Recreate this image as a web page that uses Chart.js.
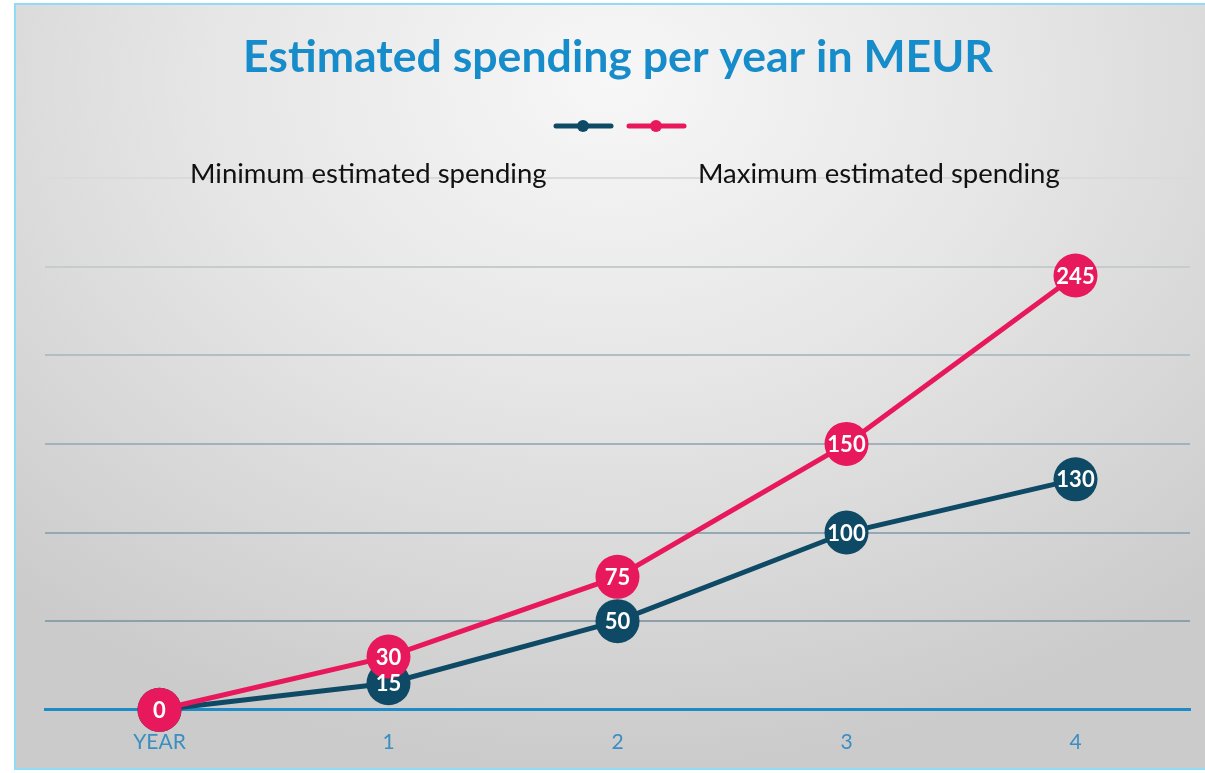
<!DOCTYPE html>
<html>
<head>
<meta charset="utf-8">
<script src="https://cdn.jsdelivr.net/npm/chart.js@4"></script>
<style>
  html, body { margin: 0; padding: 0; background: #fff; overflow: hidden; }
  #frame {
    position: absolute; left: 14px; top: 3px; width: 1195px; height: 767px;
    border: 2px solid #8fdcf6; box-sizing: border-box;
    background: radial-gradient(ellipse 75% 90% at 50% 10%, #f7f7f7 0%, #e6e6e6 45%, #cbcbcb 100%);
  }
  #chart-box { position: absolute; left: 0; top: 0; width: 1205px; height: 773px; }
</style>
</head>
<body>
<div id="frame"></div>
<div id="chart-box"><canvas id="mycanvas"></canvas></div>
<script>
let years = ["YEAR", "1", "2", "3", "4"];
let minSpending = [0, 15, 50, 100, 130];
let maxSpending = [0, 30, 75, 150, 245];
let seriesNames = ["Minimum estimated spending", "Maximum estimated spending"];
let yTicks = [0, 50, 100, 150, 200, 250, 300];

let navy = "#0e4a65";
let pink = "#e8185c";
let gridColors = {
  0: "rgba(0,0,0,0)", 50: "#8ba0ac", 100: "#95a8b3", 150: "#a2b2bc",
  200: "#b2bec6", 250: "#c6cbce", 300: "#dadada"
};

// white value inside every marker, drawn once all markers are down
let valueLabels = {
  id: "valueLabels",
  afterDatasetsDraw(chart) {
    let ctx = chart.ctx;
    ctx.save();
    ctx.fillStyle = "#ffffff";
    ctx.font = "bold 22px Lato";
    ctx.textAlign = "center";
    ctx.textBaseline = "middle";
    for (let d = chart.data.datasets.length - 1; d >= 0; d--) {
      let ds = chart.data.datasets[d];
      chart.getDatasetMeta(d).data.forEach((pt, i) => {
        if (d > 0 && ds.data[i] === 0) return; // hidden under the pink 0
        ctx.fillText(String(ds.data[i]), pt.x, pt.y + 1);
      });
    }
    ctx.restore();
  }
};

// title + legend the way the original lays them out
let header = {
  id: "header",
  beforeDatasetsDraw(chart) {
    let ctx = chart.ctx;
    ctx.save();
    ctx.fillStyle = "#178cca";
    ctx.font = "bold 44.6px Lato";
    ctx.textAlign = "center";
    ctx.textBaseline = "middle";
    ctx.fillText("Estimated spending per year in MEUR", 618, 58);

    let icons = [[556, navy], [629, pink]];
    icons.forEach(([x, c]) => {
      ctx.strokeStyle = c;
      ctx.fillStyle = c;
      ctx.lineWidth = 5;
      ctx.lineCap = "round";
      ctx.beginPath();
      ctx.moveTo(x, 126);
      ctx.lineTo(x + 55, 126);
      ctx.stroke();
      ctx.beginPath();
      ctx.arc(x + 27, 126, 6, 0, Math.PI * 2);
      ctx.fill();
    });

    ctx.fillStyle = "#111111";
    ctx.font = "27.5px Lato";
    ctx.textAlign = "left";
    ctx.fillText(seriesNames[0], 190, 174);
    ctx.fillText(seriesNames[1], 698, 174);
    ctx.restore();
  }
};

let canvas = document.getElementById("mycanvas");
let chart = new Chart(canvas, {
  type: "line",
  data: {
    labels: years,
    datasets: [
      {
        label: seriesNames[1],
        data: maxSpending,
        borderColor: pink,
        backgroundColor: pink,
        pointBackgroundColor: pink,
        borderWidth: 5,
        pointRadius: 22,
        pointBorderWidth: 0,
        tension: 0,
        clip: false
      },
      {
        label: seriesNames[0],
        data: minSpending,
        borderColor: navy,
        backgroundColor: navy,
        pointBackgroundColor: navy,
        borderWidth: 5,
        pointRadius: 22,
        pointBorderWidth: 0,
        tension: 0,
        clip: false
      }
    ]
  },
  options: {
    responsive: true,
    maintainAspectRatio: false,
    animation: false,
    layout: { autoPadding: false, padding: { left: 45, right: 15, top: 178, bottom: -2 } },
    plugins: {
      legend: { display: false },
      tooltip: { enabled: false }
    },
    scales: {
      x: {
        offset: true,
        grid: { display: false, drawTicks: false },
        border: { display: true, color: "#1e8bc6", width: 3 },
        ticks: { color: "#3a8fc2", font: { family: "Lato", size: 21 }, padding: 20 }
      },
      y: {
        min: yTicks[0],
        max: yTicks[yTicks.length - 1],
        afterBuildTicks: (scale) => { scale.ticks = yTicks.map(v => ({ value: v })); },
        grid: {
          drawTicks: false,
          lineWidth: 2,
          color: (c) => gridColors[c.tick.value]
        },
        border: { display: false },
        ticks: { display: false }
      }
    }
  },
  plugins: [valueLabels, header]
});
</script>
</body>
</html>
